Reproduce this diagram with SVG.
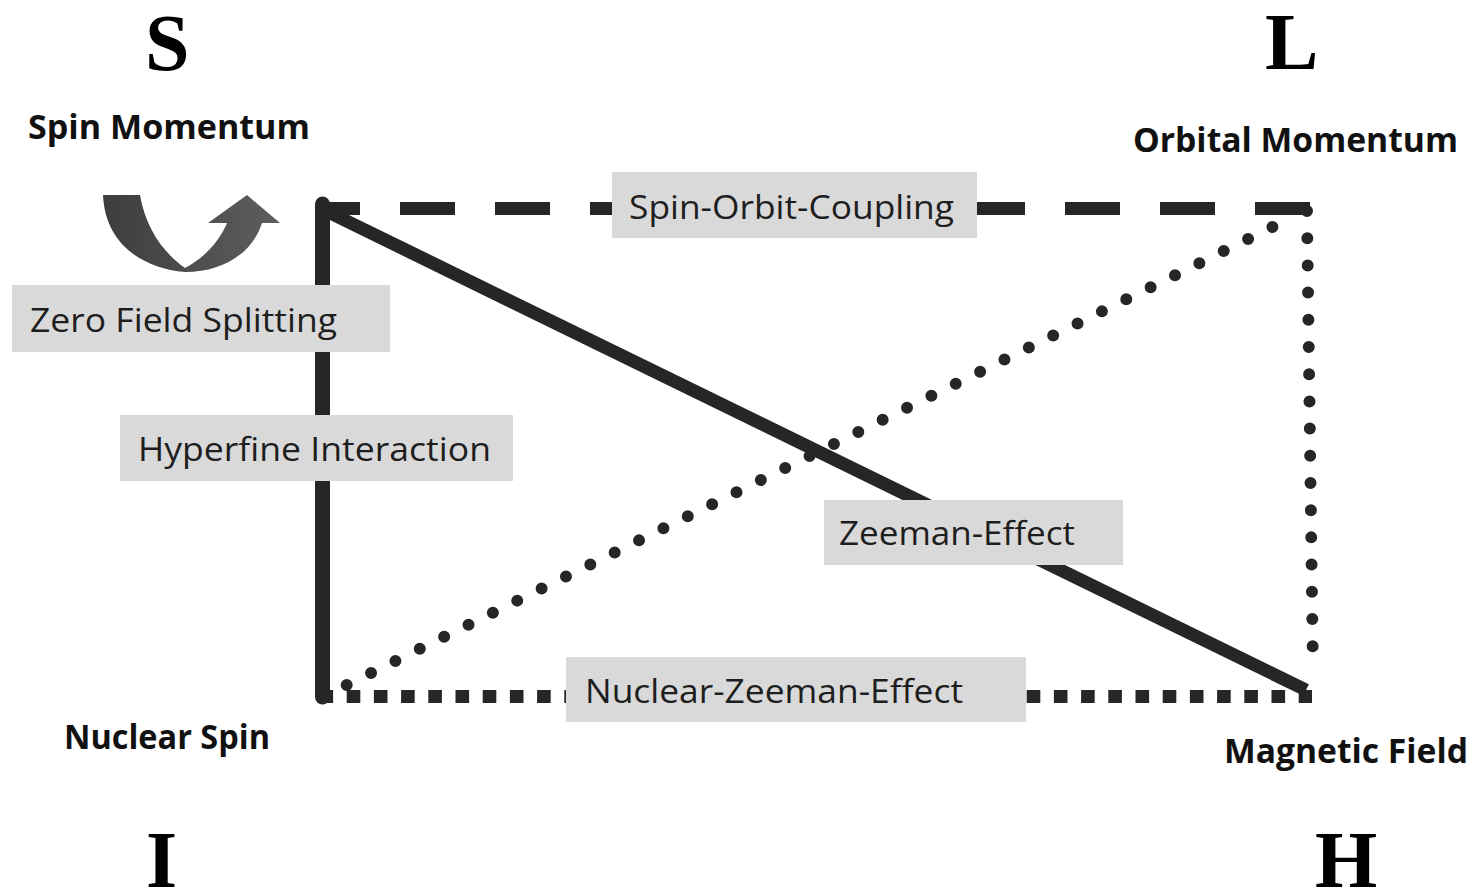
<svg xmlns="http://www.w3.org/2000/svg" width="1475" height="891" viewBox="0 0 1475 891">
<defs>
<style>
.big{font-family:"Liberation Serif","Times New Roman",serif;font-weight:bold;font-size:80px;fill:#000}
.name{font-family:"Open Sans","Noto Sans",sans-serif;font-weight:bold;font-size:34px;fill:#111}
.lbl{font-family:"Open Sans","Noto Sans",sans-serif;font-size:33px;fill:#1e1e1e}
.box{fill:#d9d9d9}
.ln{stroke:#262626;fill:none}
</style>
<linearGradient id="ag" x1="0" y1="0" x2="1" y2="0">
<stop offset="0" stop-color="#3d3d3d"/>
<stop offset="1" stop-color="#5e5e5e"/>
</linearGradient>
</defs>
<rect width="1475" height="891" fill="#fff"/>

<g id="connectors">
  <line class="ln" x1="316" y1="208.5" x2="1310" y2="208.5" stroke-width="13" stroke-dasharray="44 40 55 40 55 40 55 40 55 40 55 40 55 40 55 40 55 40 55 40 55 40 55 40"/>
  <line class="ln" x1="1307" y1="211" x2="1313" y2="673" stroke-width="12" stroke-linecap="round" stroke-dasharray="0 27.2"/>
  <line class="ln" x1="346.7" y1="685" x2="1296.7" y2="215" stroke-width="12" stroke-linecap="round" stroke-dasharray="0 27.18"/>
  <line class="ln" x1="319.5" y1="696.5" x2="1312" y2="696.5" stroke-width="13" stroke-dasharray="13.6 13.6"/>
  <path class="ln" d="M322.5,204 V697" stroke-width="15" stroke-linecap="round"/>
  <line class="ln" x1="322" y1="209" x2="1306" y2="690" stroke-width="13"/>
  <path id="zfs-arrow" fill="url(#ag)" d="M103,195 L140,195 C146,230 165,254 185,268 C204,258 219,242 227,223 L208,223 L247,195 L280,223 L262,223 C252,254 222,272 185,272 C140,268 105,242 103,195 Z"/>

  <g id="lbl-soc">
    <rect class="box" x="612" y="172" width="365" height="66"/>
    <text class="lbl" x="629" y="218.5" textLength="325" lengthAdjust="spacingAndGlyphs">Spin-Orbit-Coupling</text>
  </g>
  <g id="lbl-zfs">
    <rect class="box" x="12" y="285" width="378" height="67"/>
    <text class="lbl" x="30" y="331.5" textLength="307" lengthAdjust="spacingAndGlyphs">Zero Field Splitting</text>
  </g>
  <g id="lbl-hf">
    <rect class="box" x="120" y="415" width="393" height="66"/>
    <text class="lbl" x="138" y="461" textLength="353" lengthAdjust="spacingAndGlyphs">Hyperfine Interaction</text>
  </g>
  <g id="lbl-ze">
    <rect class="box" x="824" y="500" width="299" height="65"/>
    <text class="lbl" x="839" y="545" textLength="236" lengthAdjust="spacingAndGlyphs">Zeeman-Effect</text>
  </g>
  <g id="lbl-nze">
    <rect class="box" x="566" y="657" width="460" height="65"/>
    <text class="lbl" x="585" y="702.5" textLength="378" lengthAdjust="spacingAndGlyphs">Nuclear-Zeeman-Effect</text>
  </g>
</g>

<g id="node-S">
  <text class="big" x="145" y="70">S</text>
  <text class="name" x="28" y="138.5" textLength="282" lengthAdjust="spacingAndGlyphs">Spin Momentum</text>
</g>
<g id="node-L">
  <text class="big" x="1265" y="69">L</text>
  <text class="name" x="1133" y="151.5" textLength="325" lengthAdjust="spacingAndGlyphs">Orbital Momentum</text>
</g>
<g id="node-I">
  <text class="big" x="146" y="887">I</text>
  <text class="name" x="64" y="748.5" textLength="206" lengthAdjust="spacingAndGlyphs">Nuclear Spin</text>
</g>
<g id="node-H">
  <text class="big" x="1315" y="887">H</text>
  <text class="name" x="1224" y="762.5" textLength="244" lengthAdjust="spacingAndGlyphs">Magnetic Field</text>
</g>
</svg>
